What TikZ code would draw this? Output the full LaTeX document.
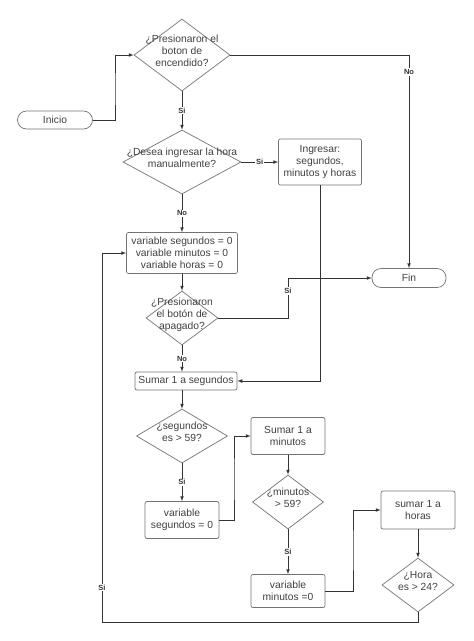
\documentclass[tikz,border=0pt]{standalone}
\usepackage{fontspec}
\setmainfont{Liberation Sans}
\usetikzlibrary{arrows}
\usetikzlibrary{shapes.geometric}

\newcommand{\dtext}[1]{\makebox[0pt]{\smash{\begin{tabular}{@{}c@{}}#1\end{tabular}}}}

\begin{document}
\begin{tikzpicture}[x=1pt, y=-1pt, >=latex,
        every node/.style={font=\fontsize{10.3}{12}\selectfont, text=black!75},
        caja/.style={draw=black!55, rounded corners=2pt, align=center, inner sep=0pt, line width=0.7pt},
        term/.style={draw=black!55, rounded corners=9pt, inner sep=0pt, line width=0.7pt},
        decision/.style={draw=black!55, diamond, inner sep=0pt, line width=0.7pt},
        flecha/.style={->, draw=black!80, line width=0.7pt},
        lbl/.style={fill=white, inner sep=1pt, font=\fontsize{7.5}{8}\selectfont\bfseries, text=black!80}]
        \useasboundingbox (0,0) rectangle (474,641);

        \node[term, minimum width=75pt, minimum height=18pt] (ini) at (55,120) {Inicio};
        \node[decision, minimum width=96pt, minimum height=72pt] (d1) at (182,55) {\dtext{¿Presionaron el\\ boton de\\ encendido?}};
        \node[decision, minimum width=118pt, minimum height=64pt] (d2) at (182,162) {\dtext{¿Desea ingresar la hora\\ manualmente?}};
        \node[caja, minimum width=83pt, minimum height=46pt] (ing) at (320,162) {Ingresar:\\ segundos,\\ minutos y horas};
        \node[caja, minimum width=111pt, minimum height=41pt] (vars) at (182,253) {variable segundos = 0\\ variable minutos = 0\\ variable horas = 0};
        \node[term, minimum width=74pt, minimum height=19pt] (fin) at (409,278) {Fin};
        \node[decision, minimum width=72pt, minimum height=54pt] (d3) at (182,318) {\dtext{¿Presionaron\\ el botón de\\ apagado?}};
        \node[caja, minimum width=102pt, minimum height=18pt] (sum1) at (186,381) {Sumar 1 a segundos};
        \node[decision, minimum width=91pt, minimum height=54pt] (d4) at (182,436) {\dtext{¿segundos\\ es > 59?}};
        \node[caja, minimum width=74pt, minimum height=37pt] (vs) at (182,520) {variable\\ segundos = 0};
        \node[caja, minimum width=74pt, minimum height=37pt] (sm1) at (288,436) {Sumar 1 a\\ minutos};
        \node[decision, minimum width=71pt, minimum height=54pt] (d5) at (288,502) {\dtext{¿minutos\\ > 59?}};
        \node[caja, minimum width=74pt, minimum height=33pt] (vm) at (288,591) {variable\\ minutos =0};
        \node[caja, minimum width=74pt, minimum height=38pt] (sh) at (418,510) {sumar 1 a\\ horas};
        \node[decision, minimum width=72pt, minimum height=54pt] (d6) at (418,585) {\dtext{¿Hora\\ es > 24?}};

        \coordinate (k0) at (115,90);
        \coordinate (k1) at (288,278);
        \coordinate (k2) at (234,480);
        \coordinate (k3) at (353,550);
        \coordinate (k4) at (102,622);

        \draw[flecha] (ini.east) -| (k0) |- (d1.west);
        \draw[flecha] (d1.south) -- node[lbl]{Si} (d2.north);
        \draw[flecha] (d1.east) -| node[lbl, pos=0.54]{No} (fin.north);
        \draw[flecha] (d2.east) -- node[lbl]{Si} (ing.west);
        \draw[flecha] (d2.south) -- node[lbl]{No} (vars.north);
        \draw[flecha] (ing.south) |- (sum1.east);
        \draw[flecha] (vars.south) -- (d3.north);
        \draw[flecha] (d3.east) -| node[lbl, pos=0.84]{Si} (k1) -- (fin.west);
        \draw[flecha] (d3.south) -- node[lbl]{No} (d3.south |- sum1.north);
        \draw[flecha] (d4.north |- sum1.south) -- (d4.north);
        \draw[flecha] (d4.south) -- node[lbl]{Si} (vs.north);
        \draw[flecha] (vs.east) -| (k2) |- (sm1.west);
        \draw[flecha] (sm1.south) -- (d5.north);
        \draw[flecha] (d5.south) -- node[lbl]{Si} (vm.north);
        \draw[flecha] (vm.east) -| (k3) |- (sh.west);
        \draw[flecha] (sh.south) -- (d6.north);
        \draw[flecha] (d6.south) |- (k4) |- node[lbl, pos=0.047]{Si} (vars.west);
\end{tikzpicture}
\end{document}
